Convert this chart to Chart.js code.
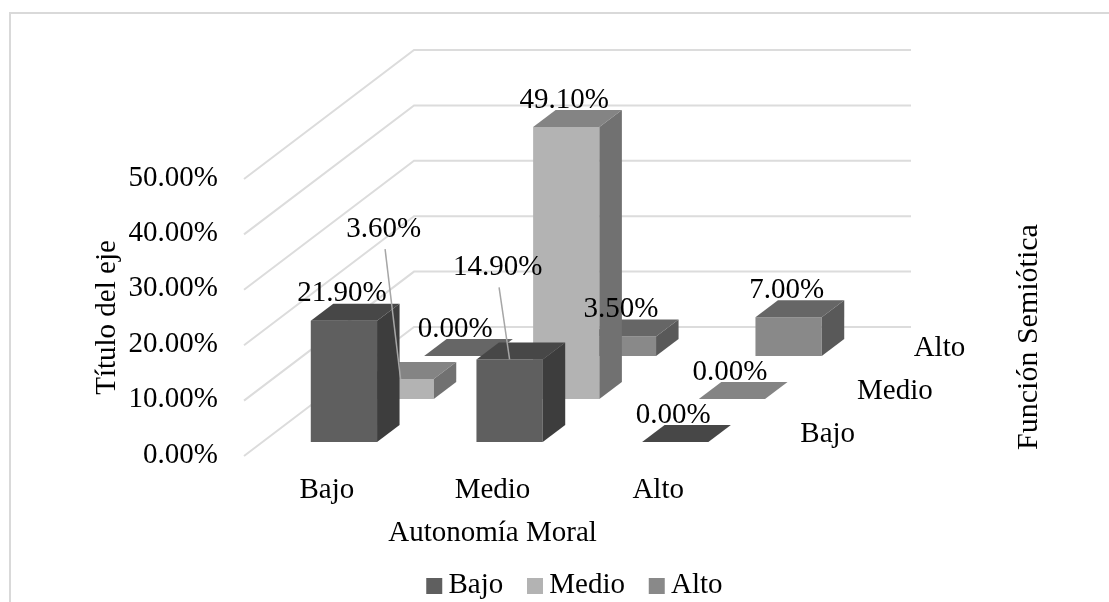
<!DOCTYPE html>
<html>
<head>
<meta charset="utf-8">
<title>Autonomía Moral</title>
<script src="https://cdn.jsdelivr.net/npm/chart.js@4/dist/chart.umd.min.js"></script>
<style>
    html, body { margin: 0; padding: 0; background: #fff; overflow: hidden; }
    #frame { position: absolute; left: 9px; top: 12px; right: 0; bottom: 0; border-left: 2px solid #d9d9d9; border-top: 2px solid #d9d9d9; }
    #chart { position: absolute; left: 0; top: 0; }
</style>
</head>
<body>
<div id="frame"></div>
<canvas id="chart" width="1109" height="602"></canvas>
<script>
const categories = ['Bajo', 'Medio', 'Alto'];
const seriesNames = ['Bajo', 'Medio', 'Alto'];
const bajoValues = [21.9, 14.9, 0];
const medioValues = [3.6, 49.1, 0];
const altoValues = [0, 3.5, 7];
const tickValues = [0, 10, 20, 30, 40, 50];

const frontColors = ['#5f5f5f', '#b3b3b3', '#898989'];
const topColors = ['#474747', '#848484', '#666666'];
const sideColors = ['#3d3d3d', '#717171', '#595959'];

const FONT_SIZE = 29;
const FONT = FONT_SIZE + 'px "Liberation Serif"';
const axisFont = { family: '"Liberation Serif"', size: FONT_SIZE };
const WALL = '#dcdcdc';

// oblique projection of the depth axis
const rowDx = 56.67, rowDy = 43;   // one series row
const barDx = 22.5, barDy = 17;    // depth of a bar inside its row
const insetDx = (rowDx - barDx) / 2, insetDy = (rowDy - barDy) / 2 + 1;

// labels with a leader line sit further away from their bar: "series-category": [dx, dy]
const labelMoves = { '0-1': [-12, -92], '1-0': [-17, -150] };

function rowShift(i) {
    return [insetDx + i * rowDx, -(insetDy + i * rowDy)];
}

function poly(ctx, color, pts) {
    ctx.fillStyle = color;
    ctx.beginPath();
    pts.forEach((p, i) => i ? ctx.lineTo(p[0], p[1]) : ctx.moveTo(p[0], p[1]));
    ctx.closePath();
    ctx.fill();
}

// square swatch drawn off-centre so the text sits close to it
function legendSwatch(color) {
    const c = document.createElement('canvas');
    c.width = 42;
    c.height = 16;
    const g = c.getContext('2d');
    g.fillStyle = color;
    g.fillRect(17, 0, 16, 16);
    return c;
}

const bars3d = {
    id: 'bars3d',
    afterLayout(chart) {
        // legend is centred on the whole figure, not on the plot
        chart.legend.left += 159;
        chart.legend.right += 159;
        chart.legend.top -= 4;
        chart.legend.bottom -= 4;
    },
    beforeDatasetsDraw(chart) {
        const { ctx, chartArea, scales: { y } } = chart;
        const depthX = rowDx * seriesNames.length, depthY = rowDy * seriesNames.length;
        ctx.save();
        ctx.strokeStyle = WALL;
        ctx.lineWidth = 2;
        tickValues.forEach(v => {
            const py = y.getPixelForValue(v);
            ctx.beginPath();
            ctx.moveTo(chartArea.left, py);
            ctx.lineTo(chartArea.left + depthX, py - depthY);
            ctx.lineTo(chartArea.right + depthX, py - depthY);
            ctx.stroke();
        });
        ctx.restore();
    },
    beforeDatasetDraw(chart, args) {
        const s = rowShift(args.index);
        chart.ctx.save();
        chart.ctx.translate(s[0], s[1]);
    },
    afterDatasetDraw(chart, args) {
        const ctx = chart.ctx;
        args.meta.data.forEach(el => {
            const b = el.getProps(['x', 'y', 'base', 'width'], true);
            const l = b.x - b.width / 2, r = b.x + b.width / 2;
            poly(ctx, topColors[args.index], [[l, b.y], [r, b.y], [r + barDx, b.y - barDy], [l + barDx, b.y - barDy]]);
            if (b.base > b.y) {
                poly(ctx, sideColors[args.index], [[r, b.y], [r + barDx, b.y - barDy], [r + barDx, b.base - barDy], [r, b.base]]);
            }
        });
        ctx.restore();
    },
    afterDatasetsDraw(chart) {
        const { ctx, chartArea, scales: { y } } = chart;
        ctx.save();
        ctx.font = FONT;
        ctx.fillStyle = '#000';
        ctx.textBaseline = 'middle';
        ctx.textAlign = 'center';

        chart.data.datasets.forEach((ds, i) => {
            const s = rowShift(i);
            chart.getDatasetMeta(i).data.forEach((el, j) => {
                const b = el.getProps(['x', 'y'], true);
                const ax = b.x + s[0], ay = b.y + s[1];
                const move = labelMoves[i + '-' + j] || [-2, -27];
                const tx = ax + move[0], ty = ay + move[1];
                if (labelMoves[i + '-' + j]) {
                    ctx.strokeStyle = '#a6a6a6';
                    ctx.lineWidth = 1.5;
                    ctx.beginPath();
                    ctx.moveTo(tx + 1.5, ty + 20);
                    ctx.lineTo(ax, ay);
                    ctx.stroke();
                }
                ctx.fillText(ds.data[j].toFixed(2) + '%', tx, ty);
            });
        });

        // depth axis
        const floor = y.getPixelForValue(0);
        ctx.textAlign = 'left';
        seriesNames.forEach((name, i) => {
            ctx.fillText(name, chartArea.right + (i + 0.5) * rowDx + 31, floor - (i + 0.5) * rowDy);
        });
        ctx.translate(1029, 337);
        ctx.rotate(-Math.PI / 2);
        ctx.textAlign = 'center';
        ctx.font = '30px "Liberation Serif"';
        ctx.fillText('Función Semiótica', 0, 0);
        ctx.restore();
    }
};

new Chart(document.getElementById('chart').getContext('2d'), {
    type: 'bar',
    data: {
        labels: categories,
        datasets: [
            { label: seriesNames[0], data: bajoValues, backgroundColor: frontColors[0] },
            { label: seriesNames[1], data: medioValues, backgroundColor: frontColors[1] },
            { label: seriesNames[2], data: altoValues, backgroundColor: frontColors[2] }
        ]
    },
    options: {
        responsive: false,
        animation: false,
        grouped: false,
        clip: false,
        barPercentage: 0.4,
        categoryPercentage: 1,
        borderWidth: 0,
        layout: { padding: { left: 90, right: 368, top: 179, bottom: -12 } },
        plugins: {
            tooltip: { enabled: false },
            legend: {
                position: 'bottom',
                labels: {
                    usePointStyle: true,
                    pointStyleWidth: 7.5,
                    padding: 24,
                    color: '#000',
                    font: axisFont,
                    generateLabels(chart) {
                        return Chart.defaults.plugins.legend.labels.generateLabels(chart)
                            .map(item => ({ ...item, pointStyle: legendSwatch(item.fillStyle) }));
                    }
                }
            }
        },
        scales: {
            x: {
                grid: { display: false, drawTicks: false },
                border: { display: false },
                afterFit(axis) { axis.height = 95; },
                ticks: { color: '#000', padding: 17, font: axisFont },
                title: { display: true, text: 'Autonomía Moral', color: '#000', font: axisFont, padding: 0 }
            },
            y: {
                min: 0,
                max: 50,
                grid: { display: false, drawTicks: false },
                border: { display: false },
                afterFit(axis) { axis.width = 154; },
                afterBuildTicks(axis) {
                    axis.ticks = tickValues.map(v => ({ value: v }));
                },
                ticks: {
                    color: '#000',
                    padding: 26,
                    labelOffset: -1,
                    font: axisFont,
                    callback: v => v.toFixed(2) + '%'
                },
                title: { display: true, text: 'Título del eje', color: '#000', font: axisFont, padding: 0 }
            }
        }
    },
    plugins: [bars3d]
});
</script>
</body>
</html>
